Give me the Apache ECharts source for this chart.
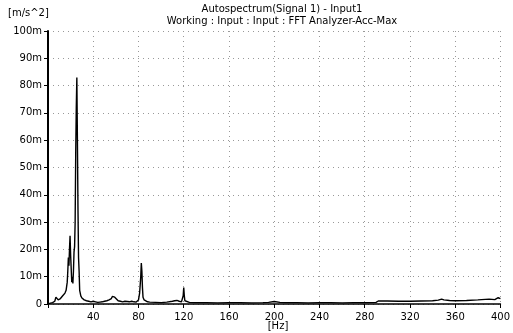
<!DOCTYPE html>
<html><head><meta charset="utf-8">
<script src="https://cdn.jsdelivr.net/npm/echarts@6/dist/echarts.min.js"></script>
<style>html,body{margin:0;padding:0;background:#fff}#c{width:513px;height:333px}</style>
</head><body><div id="c"></div>
<script>
const titleText = 'Autospectrum(Signal 1) - Input1';
const subtitleText = 'Working : Input : Input : FFT Analyzer-Acc-Max';
const yUnit = '[m/s^2]';
const xUnit = '[Hz]';
const xTicks = [40, 80, 120, 160, 200, 240, 280, 320, 360, 400];
const yTicks = [0, 10, 20, 30, 40, 50, 60, 70, 80, 90, 100];
const freqHz = [0,2,4,6,7,8,9,10,11,12,13,14,15,16,17,17.5,18,18.5,19,19.5,20,20.5,21,21.5,22,22.5,23,23.5,24,24.5,25,25.5,26,26.5,27,27.5,28,29,30,31,32,34,36,38,40,42,44,46,48,50,52,54,56,57,58,59,60,62,64,66,68,70,72,74,76,78,79,80,81,82,82.5,83,83.5,84,85,86,88,90,95,100,105,110,112,114,116,118,119,119.5,120,120.5,121,122,125,130,140,150,160,170,180,190,195,200,205,210,220,230,240,250,260,270,280,290,292,300,310,320,330,340,345,348,350,355,360,370,380,390,395,398,400];
const accMilli = [0.2,0.3,0.5,1.0,2.5,3.2,1.5,1.8,2.0,2.5,3.0,3.5,4.0,5.0,8.0,12,17,14,20,25,18,13,8,10,7.5,12,19,21,30,55,72,83,60,35,17,12,5,3,2.2,1.8,1.5,1.2,1.0,0.8,1.0,0.8,0.6,0.7,0.8,1.0,1.2,1.5,2.0,2.8,3.2,2.5,1.8,1.2,1.0,0.8,1.0,0.9,0.8,1.0,0.8,0.7,1.0,1.5,4,10,15,12,6,2.5,1.5,1.0,0.8,0.7,0.6,0.5,0.7,1.0,1.2,1.3,1.0,0.8,1.5,3,6,3,1.2,0.7,0.6,0.5,0.5,0.4,0.5,0.5,0.4,0.5,0.6,0.9,0.6,0.5,0.5,0.4,0.5,0.5,0.4,0.5,0.5,0.6,1.1,1.1,1.0,1.0,1.1,1.2,1.4,1.8,1.5,1.3,1.2,1.3,1.5,1.8,1.6,2.3,2.0];

const font = 'DejaVu Sans';
const chart = echarts.init(document.getElementById('c'), null, {renderer: 'canvas'});
chart.setOption({
  animation: false,
  backgroundColor: '#fff',
  grid: {left: 48, right: 5, top: 31, bottom: 29},
  graphic: [
    {type: 'text', left: 8, top: 8, style: {text: yUnit, font: '10px ' + font, fill: '#000'}},
    {type: 'text', x: 282, y: 4, style: {text: titleText, font: '10px ' + font, fill: '#000', align: 'center'}},
    {type: 'text', x: 282, y: 16, style: {text: subtitleText, font: '10px ' + font, fill: '#000', align: 'center'}},
    {type: 'text', x: 278, y: 321, style: {text: xUnit, font: '10px ' + font, fill: '#000', align: 'center'}}
  ],
  xAxis: {
    type: 'value', min: 0, max: 400, interval: 40,
    axisLine: {show: true, onZero: false, lineStyle: {color: '#000', width: 1.5}},
    axisTick: {show: true, length: 4, lineStyle: {color: '#000'}},
    axisLabel: {color: '#000', fontFamily: font, fontSize: 10, margin: 8,
      formatter: v => xTicks.includes(v) ? String(v) : ''},
    splitLine: {show: true, lineStyle: {color: '#999', type: [1, 4], width: 1}}
  },
  yAxis: {
    type: 'value', min: 0, max: 100, interval: 10,
    axisLine: {show: true, lineStyle: {color: '#000', width: 2}},
    axisTick: {show: true, length: 4, lineStyle: {color: '#000'}},
    axisLabel: {color: '#000', fontFamily: font, fontSize: 10, margin: 6,
      formatter: v => yTicks.includes(v) ? (v === 0 ? '0' : v + 'm') : ''},
    splitLine: {show: true, lineStyle: {color: '#999', type: [1, 4], width: 1}}
  },
  series: [{
    type: 'line', showSymbol: false, symbol: 'none',
    data: freqHz.map((f, i) => [f, accMilli[i]]),
    lineStyle: {color: '#000', width: 1.4}
  }]
});
</script></body></html>
